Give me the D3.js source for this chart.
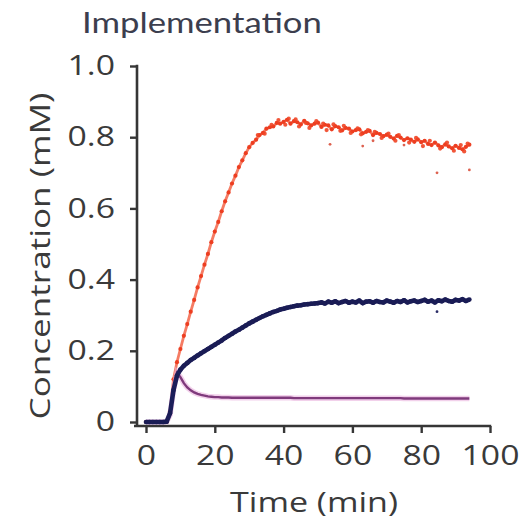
<!DOCTYPE html>
<html><head><meta charset="utf-8">
<script src="https://cdn.jsdelivr.net/npm/d3@7"></script>
<style>body{margin:0;background:#fff}svg{display:block}</style>
</head><body><svg id="chart" width="526" height="523"></svg>
<script>
// ---------- data ----------
const time = [0,1,2,3,4,5,6,7,8,9,10,11,12,13,14,15,16,17,18,19,20,21,22,23,24,25,26,27,28,29,30,31,32,33,34,35,36,37,38,39,40,41,42,43,44,45,46,47,48,49,50,51,52,53,54,55,56,57,58,59,60,61,62,63,64,65,66,67,68,69,70,71,72,73,74,75,76,77,78,79,80,81,82,83,84,85,86,87,88,89,90,91,92,93,94];

const redSeries = [0,0,0,0,0,0,0,0.03,0.12,0.168,
  0.205,0.242,0.275,0.31,0.343,0.378,0.41,0.442,0.472,0.505,
  0.535,0.562,0.592,0.62,0.645,0.67,0.692,0.716,0.735,0.755,
  0.772,0.784,0.793,0.806,0.812,0.824,0.828,0.83,0.84,0.838,
  0.843,0.849,0.838,0.845,0.842,0.836,0.846,0.839,0.833,0.838,
  0.841,0.829,0.835,0.833,0.822,0.831,0.828,0.819,0.826,0.824,
  0.816,0.82,0.822,0.811,0.815,0.818,0.806,0.812,0.809,0.803,
  0.807,0.801,0.796,0.804,0.799,0.792,0.797,0.793,0.787,0.794,
  0.786,0.79,0.781,0.778,0.785,0.777,0.772,0.78,0.774,0.769,
  0.776,0.77,0.766,0.773,0.779];

// extra scattered red readings between the whole minutes
const redScatterTime = [32.5,34.5,36.5,38.5,40.5,41.5,43.5,44.5,46.5,47.5,49.5,51.5,52.5,54.5,56.5,57.5,59.5,61.5,62.5,64.5,66.5,68.5,70.5,72.5,73.5,76.5,78.5,80.5,82.5,85.5,87.5,89.5,91.5,92.5,93.5];
const redScatterValue = [0.806,0.81,0.835,0.848,0.835,0.852,0.85,0.83,0.84,0.826,0.845,0.838,0.82,0.836,0.818,0.832,0.812,0.825,0.808,0.82,0.815,0.798,0.81,0.79,0.806,0.785,0.798,0.775,0.79,0.768,0.785,0.762,0.778,0.76,0.782];

const blueSeries = [0,0,0,0,0,0,0.001,0.025,0.09,0.13,
  0.147,0.158,0.166,0.174,0.18,0.187,0.193,0.199,0.205,0.211,
  0.217,0.223,0.229,0.236,0.242,0.248,0.254,0.259,0.265,0.271,
  0.277,0.282,0.287,0.292,0.297,0.301,0.305,0.309,0.312,0.316,
  0.318,0.321,0.323,0.325,0.327,0.328,0.330,0.331,0.332,0.333,
  0.334,0.336,0.333,0.338,0.335,0.339,0.334,0.337,0.340,0.335,
  0.338,0.336,0.341,0.334,0.338,0.339,0.335,0.340,0.337,0.336,
  0.341,0.338,0.335,0.340,0.337,0.342,0.336,0.339,0.341,0.337,
  0.340,0.343,0.338,0.341,0.336,0.342,0.339,0.344,0.340,0.338,
  0.343,0.341,0.345,0.340,0.344];

const purpleSeries = [0,0,0,0,0,0,0.001,0.02,0.09,0.138,
  0.126,0.109,0.097,0.089,0.083,0.079,0.076,0.074,0.072,0.071,
  0.070,0.070,0.069,0.069,0.069,0.068,0.068,0.068,0.068,0.068,
  0.068,0.068,0.068,0.068,0.068,0.068,0.068,0.068,0.068,0.068,
  0.068,0.068,0.068,0.067,0.067,0.067,0.067,0.067,0.067,0.067,
  0.067,0.067,0.067,0.067,0.067,0.067,0.067,0.067,0.067,0.067,
  0.067,0.067,0.067,0.067,0.067,0.067,0.067,0.067,0.067,0.067,
  0.067,0.067,0.067,0.067,0.067,0.066,0.066,0.066,0.066,0.066,
  0.066,0.066,0.066,0.066,0.066,0.066,0.066,0.066,0.066,0.066,
  0.066,0.066,0.066,0.066,0.066];

const redOutlierTime = [53.5, 63, 66, 75, 84.6, 94];
const redOutlierValue = [0.78, 0.775, 0.79, 0.778, 0.70, 0.708];
const blueOutlierTime = [84.6];
const blueOutlierValue = [0.31];

const xTicks = [0, 20, 40, 60, 80, 100];
const xTickLabels = ["0", "20", "40", "60", "80", "100"];
const yTicks = [0, 0.2, 0.4, 0.6, 0.8, 1.0];
const yTickLabels = ["0", "0.2", "0.4", "0.6", "0.8", "1.0"];

const chartTitle = "Implementation";
const xTitle = "Time (min)";
const yTitle = "Concentration (mM)";

// ---------- drawing ----------
const svg = d3.select("#chart");
const x = d3.scaleLinear().domain([0, 100]).range([146, 490]);
const y = d3.scaleLinear().domain([0, 1]).range([422, 66]);
const axisColor = "#363636";
const textColor = "#3a3a3a";
const tickFont = "'Open Sans', sans-serif";

// axes
const gx = svg.append("g").attr("transform", "translate(0,426)")
  .call(d3.axisBottom(x).tickValues(xTicks).tickSize(7).tickSizeOuter(0).tickPadding(13)
    .tickFormat((d, i) => xTickLabels[i]));
gx.select(".domain").remove();
gx.selectAll(".tick line").attr("stroke", axisColor).attr("stroke-width", 2.4);
gx.selectAll(".tick text").attr("fill", textColor).style("font-family", tickFont)
  .style("font-size", "27px").attr("transform", "scale(1.25,1)");
svg.append("line").attr("x1", 134).attr("x2", x(100) + 1.2).attr("y1", 426).attr("y2", 426)
  .attr("stroke", axisColor).attr("stroke-width", 2.6);

const gy = svg.append("g").attr("transform", "translate(137,0)")
  .call(d3.axisLeft(y).tickValues(yTicks).tickSize(7).tickSizeOuter(0).tickPadding(15)
    .tickFormat((d, i) => yTickLabels[i]));
gy.select(".domain").remove();
gy.selectAll(".tick line").attr("stroke", axisColor).attr("stroke-width", 2.4);
gy.selectAll(".tick text").attr("fill", textColor).style("font-family", tickFont)
  .style("font-size", "27px").attr("x", -22 / 1.25).attr("transform", "scale(1.25,1)");
svg.append("line").attr("x1", 137).attr("x2", 137).attr("y1", y(1) - 1.2).attr("y2", 427)
  .attr("stroke", axisColor).attr("stroke-width", 2.6);

// series
const pts = s => time.map((t, i) => [t, s[i]]);
const pairs = (ts, vs) => ts.map((t, i) => [t, vs[i]]);
const line = d3.line().x(d => x(d[0])).y(d => y(d[1]));
const dots = (data, r, fill, op) => svg.append("g").selectAll("circle").data(data).join("circle")
  .attr("cx", d => x(d[0])).attr("cy", d => y(d[1])).attr("r", r).attr("fill", fill).attr("fill-opacity", op);

// red
const redPts = pts(redSeries);
svg.append("path").attr("d", line(redPts)).attr("fill", "none")
  .attr("stroke", "#f25030").attr("stroke-width", 2.8).attr("stroke-opacity", 0.75);
dots(redPts, 2.1, "#ec3a1c", 0.95);
dots(pairs(redScatterTime, redScatterValue), 2.1, "#ef4424", 0.9);
dots(pairs(redOutlierTime, redOutlierValue), 1.4, "#d9503c", 0.9);

// purple
const purplePts = pts(purpleSeries);
svg.append("path").attr("d", line(purplePts)).attr("fill", "none")
  .attr("stroke", "#eab3de").attr("stroke-width", 5.5).attr("stroke-opacity", 0.6);
svg.append("path").attr("d", line(purplePts)).attr("fill", "none")
  .attr("stroke", "#7f3a7c").attr("stroke-width", 2.4);

// blue
const bluePts = pts(blueSeries);
svg.append("path").attr("d", line(bluePts)).attr("fill", "none")
  .attr("stroke", "#1c1e5a").attr("stroke-width", 4.6).attr("stroke-linejoin", "round");
dots(bluePts, 2.3, "#1a1c55", 1);
dots(pairs(blueOutlierTime, blueOutlierValue), 1.4, "#2a2c66", 1);

// titles (fitted to the widths seen in the picture)
function fit(sel, target) {
  const len = sel.node().getComputedTextLength();
  return len ? target / len : 1;
}
const t = svg.append("text").text(chartTitle).attr("fill", "#3c3e4e")
  .style("font-family", "Lato, sans-serif").style("font-size", "28px");
const ts = fit(t, 240);
t.attr("transform", `translate(82,33) scale(${ts},1)`);

const xt = svg.append("text").text(xTitle).attr("fill", textColor).attr("text-anchor", "middle")
  .style("font-family", tickFont).style("font-size", "28px");
const xs = fit(xt, 168);
xt.attr("transform", `translate(314,512) scale(${xs},1)`);

const yt = svg.append("text").text(yTitle).attr("fill", textColor).attr("text-anchor", "middle")
  .style("font-family", tickFont).style("font-size", "28px");
const ys = fit(yt, 327);
yt.attr("transform", `translate(50,256) rotate(-90) scale(${ys},1)`);
</script>
</body></html>
